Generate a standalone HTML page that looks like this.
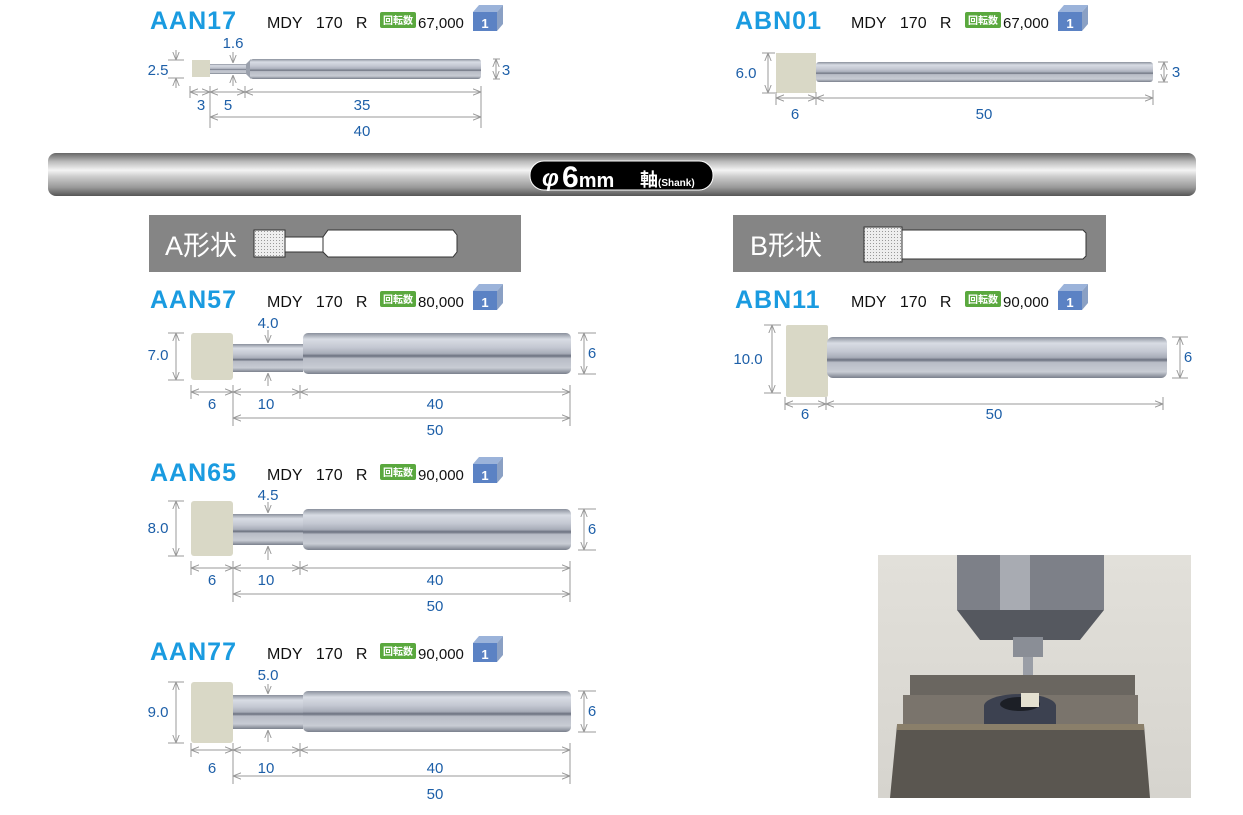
<!DOCTYPE html>
<html><head><meta charset="utf-8"><style>
html,body{margin:0;padding:0;background:#fff;width:1243px;height:815px;overflow:hidden}
svg{display:block}
.t{font-family:"Liberation Sans",sans-serif;font-weight:bold;font-size:25px;fill:#1a9be0;letter-spacing:1px}
.m{font-family:"Liberation Sans",sans-serif;font-size:16px;fill:#111}
.b{font-family:"Liberation Sans","Noto Sans CJK JP",sans-serif;font-size:10px;fill:#fff;font-weight:bold}
.d{font-family:"Liberation Sans",sans-serif;font-size:15px;fill:#1d5fa8;text-anchor:middle}
.ln{stroke:#999;stroke-width:1;fill:none}
</style></head><body>
<svg width="1243" height="815" viewBox="0 0 1243 815" xmlns="http://www.w3.org/2000/svg">
<defs>
<linearGradient id="met" x1="0" y1="0" x2="0" y2="1">
<stop offset="0" stop-color="#8a909c"/><stop offset="0.15" stop-color="#d8dce4"/><stop offset="0.35" stop-color="#c4c8d2"/><stop offset="0.5" stop-color="#a8adb9"/><stop offset="0.56" stop-color="#6a707e"/><stop offset="0.62" stop-color="#b8bcc6"/><stop offset="0.85" stop-color="#c8ccd4"/><stop offset="1" stop-color="#7a808c"/>
</linearGradient>
<linearGradient id="bar" x1="0" y1="0" x2="0" y2="1">
<stop offset="0" stop-color="#666"/><stop offset="0.2" stop-color="#bbb"/><stop offset="0.4" stop-color="#f4f4f4"/><stop offset="0.55" stop-color="#ccc"/><stop offset="0.8" stop-color="#999"/><stop offset="1" stop-color="#555"/>
</linearGradient>
<linearGradient id="ph" x1="0" y1="0" x2="0" y2="1">
<stop offset="0" stop-color="#e2e0da"/><stop offset="1" stop-color="#d6d4ce"/>
</linearGradient>
<pattern id="dot" width="3" height="3" patternUnits="userSpaceOnUse"><rect width="3" height="3" fill="#eee"/><rect width="1" height="1" fill="#999"/></pattern>
<marker id="ar" viewBox="0 0 10 10" refX="10" refY="5" markerWidth="8" markerHeight="8" orient="auto-start-reverse"><path d="M0,1 L10,5 L0,9" fill="none" stroke="#999" stroke-width="1.2"/></marker>
<g id="box"><polygon points="473,12 479,5 503,5 497,12" fill="#9bb3da"/><polygon points="497,12 503,5 503,24 497,31" fill="#8aa0c4"/><rect x="473" y="12" width="24" height="19" fill="#5b82c4"/><text x="485" y="28" font-family="Liberation Sans" font-size="13" font-weight="bold" fill="#fff" text-anchor="middle">1</text></g>
<g id="bdg"><rect x="380" y="12" width="36" height="16" rx="2" fill="#5aa83e"/><text x="398" y="24" class="b" text-anchor="middle">回転数</text></g>
</defs>

<!-- headers -->
<g><text x="150" y="29" class="t">AAN17</text><text x="267" y="28" class="m">MDY&#160;&#160;&#160;170&#160;&#160;&#160;R</text><use href="#bdg"/><text x="418" y="28" class="m" style="font-size:15px">67,000</text><use href="#box"/></g>
<g transform="translate(585,0)"><text x="150" y="29" class="t">ABN01</text><text x="266" y="28" class="m">MDY&#160;&#160;&#160;170&#160;&#160;&#160;R</text><use href="#bdg"/><text x="418" y="28" class="m" style="font-size:15px">67,000</text><use href="#box"/></g>
<g transform="translate(0,279)"><text x="150" y="29" class="t">AAN57</text><text x="267" y="28" class="m">MDY&#160;&#160;&#160;170&#160;&#160;&#160;R</text><use href="#bdg"/><text x="418" y="28" class="m" style="font-size:15px">80,000</text><use href="#box"/></g>
<g transform="translate(585,279)"><text x="150" y="29" class="t">ABN11</text><text x="266" y="28" class="m">MDY&#160;&#160;&#160;170&#160;&#160;&#160;R</text><use href="#bdg"/><text x="418" y="28" class="m" style="font-size:15px">90,000</text><use href="#box"/></g>
<g transform="translate(0,452)"><text x="150" y="29" class="t">AAN65</text><text x="267" y="28" class="m">MDY&#160;&#160;&#160;170&#160;&#160;&#160;R</text><use href="#bdg"/><text x="418" y="28" class="m" style="font-size:15px">90,000</text><use href="#box"/></g>
<g transform="translate(0,631)"><text x="150" y="29" class="t">AAN77</text><text x="267" y="28" class="m">MDY&#160;&#160;&#160;170&#160;&#160;&#160;R</text><use href="#bdg"/><text x="418" y="28" class="m" style="font-size:15px">90,000</text><use href="#box"/></g>

<!-- AAN17 drawing -->
<rect x="192" y="60" width="18" height="17" fill="#d9d8c6"/>
<rect x="210" y="64" width="36" height="10" fill="url(#met)"/>
<polygon points="246,64 251,59 251,79 246,74" fill="#9aa0ac"/>
<rect x="250" y="59" width="231" height="20" rx="3" fill="url(#met)"/>
<path class="ln" d="M168,60H184M168,78H184M493,59H500M493,79H500"/>
<line class="ln" x1="176" y1="50" x2="176" y2="60" marker-end="url(#ar)"/><line class="ln" x1="176" y1="88" x2="176" y2="78" marker-end="url(#ar)"/>
<line class="ln" x1="233" y1="52" x2="233" y2="63" marker-end="url(#ar)"/><line class="ln" x1="233" y1="86" x2="233" y2="75" marker-end="url(#ar)"/>
<line class="ln" x1="496" y1="59" x2="496" y2="79" marker-start="url(#ar)" marker-end="url(#ar)"/>
<text x="158" y="75" class="d">2.5</text><text x="233" y="48" class="d">1.6</text><text x="506" y="75" class="d">3</text>
<path class="ln" d="M190,86V98M210,86V128M245,86V98M481,86V128"/>
<line class="ln" x1="190" y1="92" x2="210" y2="92" marker-start="url(#ar)" marker-end="url(#ar)"/>
<line class="ln" x1="210" y1="92" x2="245" y2="92" marker-start="url(#ar)" marker-end="url(#ar)"/>
<line class="ln" x1="245" y1="92" x2="481" y2="92" marker-start="url(#ar)" marker-end="url(#ar)"/>
<line class="ln" x1="210" y1="117" x2="481" y2="117" marker-start="url(#ar)" marker-end="url(#ar)"/>
<text x="201" y="110" class="d">3</text><text x="228" y="110" class="d">5</text><text x="362" y="110" class="d">35</text><text x="362" y="136" class="d">40</text>

<!-- ABN01 drawing -->
<rect x="776" y="53" width="40" height="40" fill="#d9d8c6"/>
<rect x="816" y="62" width="337" height="20" rx="3" fill="url(#met)"/>
<path class="ln" d="M762,53H775M762,93H775M1158,62H1168M1158,82H1168"/>
<line class="ln" x1="768" y1="53" x2="768" y2="93" marker-start="url(#ar)" marker-end="url(#ar)"/>
<line class="ln" x1="1164" y1="62" x2="1164" y2="82" marker-start="url(#ar)" marker-end="url(#ar)"/>
<text x="746" y="78" class="d">6.0</text><text x="1176" y="77" class="d">3</text>
<path class="ln" d="M776,92V105M816,92V105M1153,90V105"/>
<line class="ln" x1="776" y1="98" x2="816" y2="98" marker-start="url(#ar)" marker-end="url(#ar)"/>
<line class="ln" x1="816" y1="98" x2="1153" y2="98" marker-start="url(#ar)" marker-end="url(#ar)"/>
<text x="795" y="119" class="d">6</text><text x="984" y="119" class="d">50</text>

<!-- shank bar -->
<rect x="48" y="153" width="1148" height="43" rx="8" fill="url(#bar)"/>
<rect x="530" y="161" width="183" height="29" rx="14" fill="#000" stroke="#fff" stroke-width="1"/>
<text x="542" y="186" font-family="Liberation Sans" font-weight="bold" font-style="italic" font-size="24" fill="#fff">φ</text>
<text x="562" y="187" font-family="Liberation Sans" font-weight="bold" font-size="30" fill="#fff">6<tspan font-size="20">mm</tspan></text>
<text x="640" y="186" font-family="Liberation Sans,Noto Sans CJK JP,sans-serif" font-weight="bold" font-size="18" fill="#fff">軸<tspan font-size="10">(Shank)</tspan></text>

<!-- A / B shape boxes -->
<rect x="149" y="215" width="372" height="57" fill="#858585"/>
<text x="165" y="255" font-family="Liberation Sans,Noto Sans CJK JP,sans-serif" font-size="27" fill="#fff">A形状</text>
<rect x="254" y="230" width="31" height="27" fill="url(#dot)" stroke="#333"/>
<rect x="285" y="237" width="38" height="15" fill="#fff" stroke="#333"/>
<path d="M323,237 L328,230 H453 L457,235 V252 L453,257 H328 L323,252Z" fill="#fff" stroke="#333"/>
<rect x="733" y="215" width="373" height="57" fill="#858585"/>
<text x="750" y="255" font-family="Liberation Sans,Noto Sans CJK JP,sans-serif" font-size="27" fill="#fff">B形状</text>
<rect x="864" y="227" width="38" height="35" fill="url(#dot)" stroke="#333"/>
<path d="M902,230 H1083 L1086,233 V256 L1083,259 H902Z" fill="#fff" stroke="#333"/>

<!-- AAN57 -->
<g>
<rect x="191" y="333" width="42" height="47" rx="3" fill="#d9d8c6"/>
<rect x="233" y="344" width="70" height="28" fill="url(#met)"/>
<rect x="303" y="333" width="268" height="41" rx="5" fill="url(#met)"/>
<path class="ln" d="M168,333H184M168,380H184M578,333H596M578,374H596"/>
<line class="ln" x1="176" y1="333" x2="176" y2="380" marker-start="url(#ar)" marker-end="url(#ar)"/>
<line class="ln" x1="268" y1="330" x2="268" y2="343" marker-end="url(#ar)"/><line class="ln" x1="268" y1="386" x2="268" y2="373" marker-end="url(#ar)"/>
<line class="ln" x1="584" y1="333" x2="584" y2="374" marker-start="url(#ar)" marker-end="url(#ar)"/>
<text x="158" y="360" class="d">7.0</text><text x="268" y="328" class="d">4.0</text><text x="592" y="358" class="d">6</text>
<path class="ln" d="M191,385V399M233,385V426M300,385V399M570,385V426"/>
<line class="ln" x1="191" y1="392" x2="233" y2="392" marker-start="url(#ar)" marker-end="url(#ar)"/>
<line class="ln" x1="233" y1="392" x2="300" y2="392" marker-start="url(#ar)" marker-end="url(#ar)"/>
<line class="ln" x1="300" y1="392" x2="570" y2="392" marker-start="url(#ar)" marker-end="url(#ar)"/>
<line class="ln" x1="233" y1="418" x2="570" y2="418" marker-start="url(#ar)" marker-end="url(#ar)"/>
<text x="212" y="409" class="d">6</text><text x="266" y="409" class="d">10</text><text x="435" y="409" class="d">40</text><text x="435" y="435" class="d">50</text>
</g>

<!-- AAN65 -->
<g transform="translate(0,176)">
<rect x="191" y="325" width="42" height="55" rx="3" fill="#d9d8c6"/>
<rect x="233" y="338" width="70" height="31" fill="url(#met)"/>
<rect x="303" y="333" width="268" height="41" rx="5" fill="url(#met)"/>
<path class="ln" d="M168,325H184M168,380H184M578,333H596M578,374H596"/>
<line class="ln" x1="176" y1="325" x2="176" y2="380" marker-start="url(#ar)" marker-end="url(#ar)"/>
<line class="ln" x1="268" y1="326" x2="268" y2="337" marker-end="url(#ar)"/><line class="ln" x1="268" y1="384" x2="268" y2="370" marker-end="url(#ar)"/>
<line class="ln" x1="584" y1="333" x2="584" y2="374" marker-start="url(#ar)" marker-end="url(#ar)"/>
<text x="158" y="357" class="d">8.0</text><text x="268" y="324" class="d">4.5</text><text x="592" y="358" class="d">6</text>
<path class="ln" d="M191,385V399M233,385V426M300,385V399M570,385V426"/>
<line class="ln" x1="191" y1="392" x2="233" y2="392" marker-start="url(#ar)" marker-end="url(#ar)"/>
<line class="ln" x1="233" y1="392" x2="300" y2="392" marker-start="url(#ar)" marker-end="url(#ar)"/>
<line class="ln" x1="300" y1="392" x2="570" y2="392" marker-start="url(#ar)" marker-end="url(#ar)"/>
<line class="ln" x1="233" y1="418" x2="570" y2="418" marker-start="url(#ar)" marker-end="url(#ar)"/>
<text x="212" y="409" class="d">6</text><text x="266" y="409" class="d">10</text><text x="435" y="409" class="d">40</text><text x="435" y="435" class="d">50</text>
</g>

<!-- AAN77 -->
<g transform="translate(0,358)">
<rect x="191" y="324" width="42" height="61" rx="3" fill="#d9d8c6"/>
<rect x="233" y="337" width="70" height="34" fill="url(#met)"/>
<rect x="303" y="333" width="268" height="41" rx="5" fill="url(#met)"/>
<path class="ln" d="M168,324H184M168,385H184M578,333H596M578,374H596"/>
<line class="ln" x1="176" y1="324" x2="176" y2="385" marker-start="url(#ar)" marker-end="url(#ar)"/>
<line class="ln" x1="268" y1="326" x2="268" y2="336" marker-end="url(#ar)"/><line class="ln" x1="268" y1="384" x2="268" y2="372" marker-end="url(#ar)"/>
<line class="ln" x1="584" y1="333" x2="584" y2="374" marker-start="url(#ar)" marker-end="url(#ar)"/>
<text x="158" y="359" class="d">9.0</text><text x="268" y="322" class="d">5.0</text><text x="592" y="358" class="d">6</text>
<path class="ln" d="M191,385V399M233,385V426M300,385V399M570,385V426"/>
<line class="ln" x1="191" y1="392" x2="233" y2="392" marker-start="url(#ar)" marker-end="url(#ar)"/>
<line class="ln" x1="233" y1="392" x2="300" y2="392" marker-start="url(#ar)" marker-end="url(#ar)"/>
<line class="ln" x1="300" y1="392" x2="570" y2="392" marker-start="url(#ar)" marker-end="url(#ar)"/>
<line class="ln" x1="233" y1="418" x2="570" y2="418" marker-start="url(#ar)" marker-end="url(#ar)"/>
<text x="212" y="415" class="d">6</text><text x="266" y="415" class="d">10</text><text x="435" y="415" class="d">40</text><text x="435" y="441" class="d">50</text>
</g>

<!-- ABN11 -->
<rect x="786" y="325" width="42" height="72" rx="2" fill="#d9d8c6"/>
<rect x="827" y="337" width="340" height="41" rx="6" fill="url(#met)"/>
<path class="ln" d="M764,325H781M764,393H781M1172,337H1188M1172,378H1188"/>
<line class="ln" x1="772" y1="325" x2="772" y2="393" marker-start="url(#ar)" marker-end="url(#ar)"/>
<line class="ln" x1="1180" y1="337" x2="1180" y2="378" marker-start="url(#ar)" marker-end="url(#ar)"/>
<text x="748" y="364" class="d">10.0</text><text x="1188" y="362" class="d">6</text>
<path class="ln" d="M785,397V410M826,397V410M1163,397V410"/>
<line class="ln" x1="785" y1="404" x2="826" y2="404" marker-start="url(#ar)" marker-end="url(#ar)"/>
<line class="ln" x1="826" y1="404" x2="1163" y2="404" marker-start="url(#ar)" marker-end="url(#ar)"/>
<text x="805" y="419" class="d">6</text><text x="994" y="419" class="d">50</text>

<!-- photo -->
<g>
<rect x="878" y="555" width="313" height="243" fill="url(#ph)"/>
<rect x="957" y="555" width="147" height="55" fill="#7d8088"/>
<rect x="1000" y="555" width="30" height="55" fill="#a8abb2"/>
<polygon points="957,610 1104,610 1080,640 980,640" fill="#55585f"/>
<rect x="1013" y="637" width="30" height="20" fill="#8a8e96"/>
<rect x="1023" y="657" width="10" height="40" fill="#9a9ea6"/>
<rect x="910" y="675" width="225" height="45" fill="#6a6660"/>
<rect x="903" y="695" width="235" height="30" fill="#7a746c"/>
<ellipse cx="1020" cy="706" rx="36" ry="12" fill="#3c4150"/>
<rect x="984" y="706" width="72" height="18" fill="#3c4150"/>
<ellipse cx="1020" cy="704" rx="20" ry="7" fill="#1c1f26"/>
<rect x="1021" y="693" width="18" height="14" fill="#e4e0d0"/>
<polygon points="897,725 1144,725 1150,798 890,798" fill="#5a5650"/>
<rect x="897" y="724" width="247" height="6" fill="#8a7f6a"/>
</g>
</svg>
</body></html>
